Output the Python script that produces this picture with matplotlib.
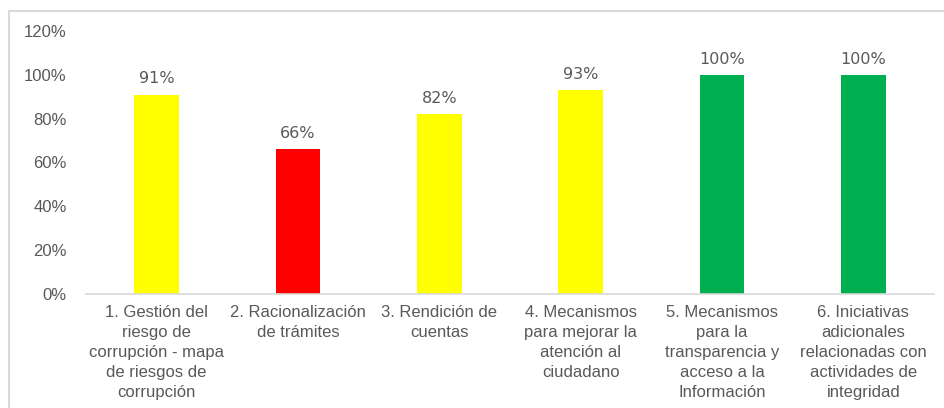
import matplotlib
matplotlib.use("Agg")
import matplotlib.pyplot as plt
from matplotlib.patches import Rectangle
from matplotlib.ticker import FuncFormatter

categories = [
    "1. Gestión del\nriesgo de\ncorrupción - mapa\nde riesgos de\ncorrupción",
    "2. Racionalización\nde trámites",
    "3. Rendición de\ncuentas",
    "4. Mecanismos\npara mejorar la\natención al\nciudadano",
    "5. Mecanismos\npara la\ntransparencia y\nacceso a la\nInformación",
    "6. Iniciativas\nadicionales\nrelacionadas con\nactividades de\nintegridad",
]
values = [0.91, 0.66, 0.82, 0.93, 1.00, 1.00]
value_labels = ["91%", "66%", "82%", "93%", "100%", "100%"]
colors = ["#FFFF00", "#FF0000", "#FFFF00", "#FFFF00", "#00B050", "#00B050"]
yticks = [0, 0.2, 0.4, 0.6, 0.8, 1.0, 1.2]

fig = plt.figure(figsize=(9.44, 4.08), dpi=100)
fig.patches.append(Rectangle((8.5 / 944, -0.1), 1.2, (408 - 10.5) / 408 + 0.1,
                             transform=fig.transFigure, fill=False,
                             edgecolor="#D9D9D9", linewidth=1.5))

ax = fig.add_axes([86 / 944, (408 - 294) / 408, (934 - 86) / 944, (294 - 31) / 408])
x = range(len(categories))
bars = ax.bar(x, values, width=0.315, color=colors)
for xi, v, lab in zip(x, values, value_labels):
    ax.annotate(lab, (xi, v), xytext=(0, 6), textcoords="offset points",
                ha="center", va="bottom", fontsize=11.5, color="#595959",
                family="DejaVu Sans")

ax.set_xlim(-0.5, len(categories) - 0.5)
ax.set_ylim(0, 1.2)
ax.set_yticks(yticks)
ax.yaxis.set_major_formatter(FuncFormatter(lambda v, p: f"{v*100:.0f}%"))
ax.set_xticks(list(x))
ax.set_xticklabels(categories, fontsize=12, color="#595959",
                   family="Liberation Sans", linespacing=1.42)
for lab in ax.get_yticklabels():
    lab.set_fontsize(12)
    lab.set_color("#595959")
    lab.set_family("Liberation Sans")
ax.tick_params(axis="both", length=0)
ax.tick_params(axis="x", pad=8)
ax.tick_params(axis="y", pad=14)
for s in ["top", "right", "left"]:
    ax.spines[s].set_visible(False)
ax.spines["bottom"].set_color("#D9D9D9")
ax.spines["bottom"].set_linewidth(1.2)

fig.savefig("out.png", dpi=100)
